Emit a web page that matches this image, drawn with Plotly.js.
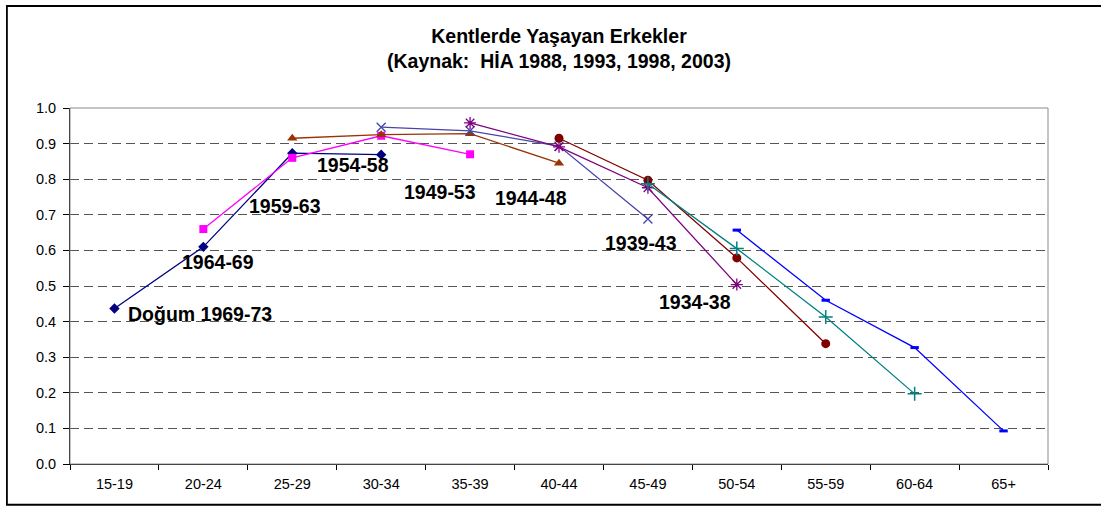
<!DOCTYPE html>
<html>
<head>
<meta charset="utf-8">
<script src="https://cdn.plot.ly/plotly-3.0.1.min.js"></script>
<style>html,body{margin:0;padding:0;background:#fff;}#chart{width:1101px;height:506px;}</style>
</head>
<body>
<div id="chart"></div>
<script>
// Age groups (x categories)
var ageGroups = ["15-19","20-24","25-29","30-34","35-39","40-44","45-49","50-54","55-59","60-64","65+"];

// Cohort series (fraction living in cities), each tracked over 4 surveys
var cohort1969_73 = {ages: ["15-19","20-24","25-29","30-34"], vals: [0.437, 0.610, 0.873, 0.869]};
var cohort1964_69 = {ages: ["20-24","25-29","30-34","35-39"], vals: [0.660, 0.860, 0.922, 0.870]};
var cohort1959_63 = {ages: ["25-29","30-34","35-39","40-44"], vals: [0.915, 0.925, 0.928, 0.845]};
var cohort1954_58 = {ages: ["30-34","35-39","40-44","45-49"], vals: [0.946, 0.936, 0.893, 0.688]};
var cohort1949_53 = {ages: ["35-39","40-44","45-49","50-54"], vals: [0.958, 0.891, 0.776, 0.504]};
var cohort1944_48 = {ages: ["40-44","45-49","50-54","55-59"], vals: [0.915, 0.797, 0.579, 0.338]};
var cohort1939_43 = {ages: ["45-49","50-54","55-59","60-64"], vals: [0.787, 0.605, 0.413, 0.197]};
var cohort1934_38 = {ages: ["50-54","55-59","60-64","65+"], vals: [0.657, 0.460, 0.327, 0.093]};

var cohortLabels = ["Doğum 1969-73","1964-69","1959-63","1954-58","1949-53","1944-48","1939-43","1934-38"];

var titleText = "Kentlerde Yaşayan Erkekler<br>(Kaynak:  HİA 1988, 1993, 1998, 2003)";

var FONT = "Liberation Sans, Arial, Helvetica, sans-serif";

function tr(c, color, symbol, size, mline) {
  return {
    x: c.ages, y: c.vals, type: "scatter", mode: "lines+markers",
    line: {color: color, width: 1.3},
    marker: {color: color, symbol: symbol, size: size, line: {color: color, width: mline}},
    showlegend: false, hoverinfo: "x+y"
  };
}

var data = [
  tr(cohort1969_73, "#000080", "diamond", 8, 0),
  tr(cohort1964_69, "#FF00FF", "square", 8, 0),
  tr(cohort1959_63, "#993300", "triangle-up", 9, 0),
  tr(cohort1954_58, "#4545AA", "x-thin-open", 9, 1.3),
  tr(cohort1949_53, "#800080", "asterisk-open", 10, 1.3),
  tr(cohort1944_48, "#800000", "circle", 9, 0),
  tr(cohort1939_43, "#008080", "cross-thin-open", 10, 1.5),
  tr(cohort1934_38, "#0000FF", "line-ew-open", 6, 3)
];

var labelPos = [
  [0.962, 0.421], [1.161, 0.567], [1.915, 0.725], [2.683, 0.841],
  [3.662, 0.764], [4.688, 0.748], [5.921, 0.621], [6.534, 0.455]
];

var annotations = cohortLabels.map(function (t, i) {
  return {
    text: t, x: labelPos[i][0], y: labelPos[i][1], xref: "x", yref: "y",
    showarrow: false, xanchor: "center", yanchor: "middle",
    font: {family: FONT, size: 19.5, color: "#000", weight: "bold"}
  };
});

var layout = {
  width: 1101, height: 506,
  margin: {l: 70, r: 53, t: 108, b: 42, pad: 0},
  paper_bgcolor: "#ffffff", plot_bgcolor: "#ffffff",
  font: {family: FONT, color: "#000"},
  title: {
    text: titleText, xref: "paper", x: 0.5, xanchor: "center",
    yref: "container", y: 1 - 43 / 506, yanchor: "middle",
    font: {family: FONT, size: 19.5, color: "#000", weight: "bold"}
  },
  xaxis: {
    type: "category", categoryorder: "array", categoryarray: ageGroups,
    range: [-0.5, 10.5], tickson: "boundaries",
    ticks: "outside", ticklen: 5, tickcolor: "#000", tickwidth: 1,
    showline: true, linecolor: "#000", linewidth: 1,
    showgrid: false, zeroline: false,
    tickfont: {family: FONT, size: 14.5, color: "#000"},
    ticklabelstandoff: 7, fixedrange: true
  },
  yaxis: {
    range: [0, 1], dtick: 0.1, tick0: 0, tickformat: ".1f",
    ticks: "outside", ticklen: 6, tickcolor: "#000", tickwidth: 1,
    showline: true, linecolor: "#000", linewidth: 1,
    showgrid: true, gridcolor: "#555555", gridwidth: 1, griddash: "9px,5px",
    zeroline: false,
    tickfont: {family: FONT, size: 14.5, color: "#000"},
    ticklabelstandoff: 4, fixedrange: true
  },
  shapes: [
    {type: "rect", xref: "paper", yref: "paper", x0: 0, x1: 1, y0: 0, y1: 1,
     line: {color: "#8a8a8a", width: 1}, fillcolor: "rgba(0,0,0,0)", layer: "above"},
    {type: "rect", xref: "paper", yref: "paper", x0: -0.0645, x1: 1.09, y0: -0.1145, y1: 1.2865,
     line: {color: "#000", width: 1.8}, fillcolor: "rgba(0,0,0,0)", layer: "above"}
  ],
  annotations: annotations
};

Plotly.newPlot("chart", data, layout, {displayModeBar: false, staticPlot: true});
</script>
</body>
</html>
